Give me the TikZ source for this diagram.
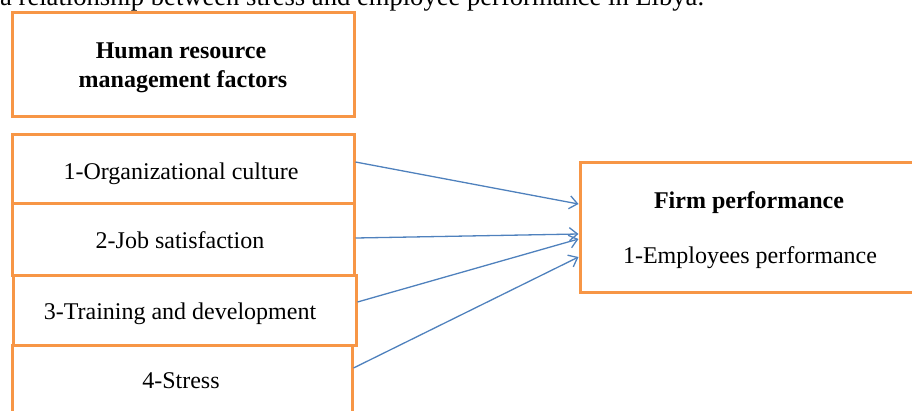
\documentclass[tikz,border=0pt]{standalone}
\usepackage{fontspec}
\setmainfont{Liberation Serif}
\usetikzlibrary{arrows.meta}
\definecolor{boxorange}{HTML}{F79646}
\definecolor{arrowblue}{HTML}{4F81BD}
\tikzset{
  frame/.style={draw=boxorange, line width=3pt, fill=white, inner sep=0pt},
  label text/.style={anchor=base, inner sep=0pt, font=\fontsize{24}{27}\selectfont},
  link/.style={draw=arrowblue, line width=1.3pt,
    -{Straight Barb[length=8pt,width=13pt,line width=1.3pt]}}
}
\begin{document}
\begin{tikzpicture}[x=1pt,y=-1pt]
\useasboundingbox (0,0) rectangle (912,410);
\begin{scope}
\clip (0,0) rectangle (912,410);
\node[anchor=base west, inner sep=0pt, font=\fontsize{26.6}{30}\selectfont] (cap) at (0,5.5)
  {a relationship between stress and employee performance in Libya.};
% frames
\node[frame, minimum width=342pt, minimum height=104pt] (hdr) at (183,64) {};
\node[frame, minimum width=342pt, minimum height=69pt] (b1) at (183,168.5) {};
\node[frame, minimum width=342pt, minimum height=72pt] (b2) at (183,239) {};
\node[frame, minimum width=343pt, minimum height=70pt] (b3) at (184.5,310) {};
\node[frame, minimum width=340pt, minimum height=70pt] (b4) at (182,380) {};
\node[frame, minimum width=338pt, minimum height=130pt] (fp) at (749,227) {};
% texts
\node[label text, font=\fontsize{24}{27}\bfseries] (h1) at (181,58) {Human resource};
\node[label text, font=\fontsize{24}{27}\bfseries] (h2) at (183,87) {management factors};
\node[label text] (t1) at (181,179) {1-Organizational culture};
\node[label text] (t2) at (180,248) {2-Job satisfaction};
\node[label text] (t3) at (180,319) {3-Training and development};
\node[label text] (t4) at (181,388) {4-Stress};
\node[label text, font=\fontsize{24}{27}\bfseries] (f1) at (749,208) {Firm performance};
\node[label text] (f2) at (750,263) {1-Employees performance};
% connectors
\draw[link] ([yshift=6.5pt]b1.east) -- ([yshift=23pt]fp.west);
\draw[link] ([yshift=1pt]b2.east) -- ([yshift=-7pt]fp.west);
\draw[link] ([yshift=8pt]b3.east) -- ([yshift=-12pt]fp.west);
\draw[link] ([yshift=12pt]b4.east) -- ([yshift=-30pt]fp.west);
\end{scope}
\end{tikzpicture}
\end{document}
